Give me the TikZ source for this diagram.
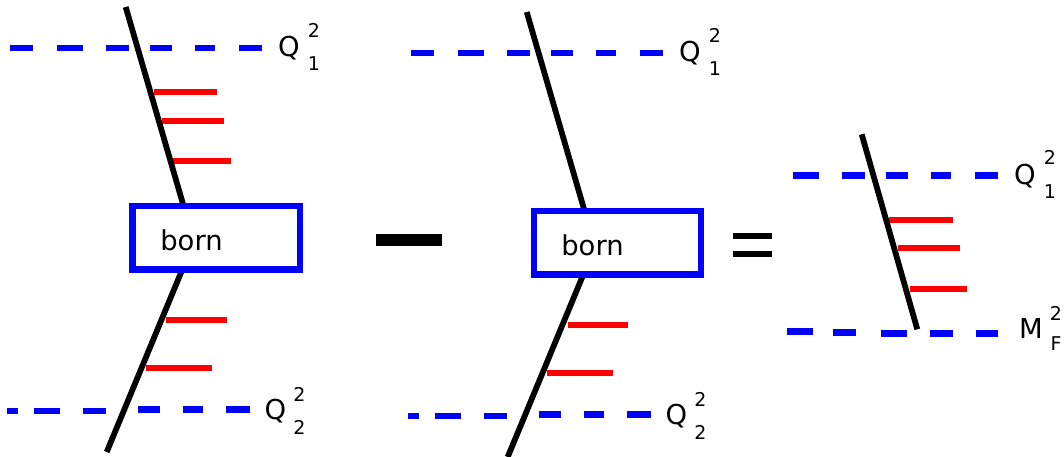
\documentclass[tikz,border=0pt]{standalone}
\usepackage{fontspec}
\setmainfont{DejaVu Sans}
\tikzset{
    quarkline/.style={line width=4.1pt, black},
    rungline/.style={line width=4.2pt, red},
    scaleline/.style={line width=4.7pt, blue},
    scaledash/.style={scaleline, dash pattern=on 16.6pt off 16.9pt on 18.3pt off 16.4pt on 16.6pt off 14.9pt on 15.6pt off 16.4pt on 14.2pt off 16.6pt on 16.6pt off 40pt},
    bornbox/.style={draw=blue, line width=4.6pt, minimum width=4.175cm, minimum height=1.58cm},
    borntext/.style={inner sep=0pt, font=\fontsize{19.5}{22}\selectfont},
    scaletext/.style={inner sep=0pt, font=\fontsize{19.5}{22}\selectfont},
    indextext/.style={inner sep=0pt, font=\fontsize{13.5}{15}\selectfont}
}
\begin{document}
\begin{tikzpicture}[x=0.025cm, y=-0.025cm]
    \useasboundingbox (0,0) rectangle (1064,456);

    % First term
    \draw[scaledash] (10,48) -- (262,48);
    \draw[scaleline, dash pattern=on 7.8pt off 11.4pt on 18.5pt off 16.4pt on 16.4pt off 40pt] (7,411) -- (106,411);
    \draw[scaledash, dash phase=99.6pt] (138,409.7) -- (250,409.7);
    \draw[rungline] (153.5,92.3) -- (216.7,92.3);
    \draw[rungline] (161.7,121) -- (224,121);
    \draw[rungline] (173,161.3) -- (231.3,161.3);
    \draw[rungline] (165.7,319.7) -- (226.7,319.7);
    \draw[rungline] (146,368) -- (212,368);
    \coordinate (quarkAtop) at (125.7,7);
    \coordinate (quarkAmid) at (183,204);
    \coordinate (quarkAlow) at (181.7,271);
    \coordinate (quarkAend) at (106.7,452);
    \draw[quarkline] (quarkAtop) -- (quarkAmid);
    \draw[quarkline] (quarkAlow) -- (quarkAend);
    \node[bornbox] (boxA) at (216.25,237.85) {};
    \node[borntext] (bornA) at (191.5,240) {born};
    \node[scaletext] (scaleAq) at (288.8,48.5) {Q};
    \node[indextext] (scaleAu) at (314,30) {2};
    \node[indextext] (scaleAd) at (314,64) {1};
    \node[scaletext] (scaleBq) at (275.5,411.5) {Q};
    \node[indextext] (scaleBu) at (299.5,394) {2};
    \node[indextext] (scaleBd) at (299.5,427) {2};

    % Minus sign
    \draw[line width=8.5pt] (376,240) -- (442,240);

    % Second term
    \draw[scaledash] (411,53) -- (663,53);
    \draw[scaleline, dash pattern=on 7.8pt off 11.4pt on 18.5pt off 16.4pt on 16.4pt off 40pt] (408,416) -- (507,416);
    \draw[scaledash, dash phase=99.6pt] (539,414.7) -- (651,414.7);
    \draw[rungline] (568,324.7) -- (627.7,324.7);
    \draw[rungline] (547,373) -- (613,373);
    \coordinate (quarkBtop) at (526.7,12);
    \coordinate (quarkBmid) at (584,209);
    \coordinate (quarkBlow) at (582.7,276);
    \coordinate (quarkBend) at (507.7,457);
    \draw[quarkline] (quarkBtop) -- (quarkBmid);
    \draw[quarkline] (quarkBlow) -- (quarkBend);
    \node[bornbox] (boxB) at (617.25,242.85) {};
    \node[borntext] (bornB) at (592.5,245) {born};
    \node[scaletext] (scaleCq) at (689.8,53.5) {Q};
    \node[indextext] (scaleCu) at (715,35) {2};
    \node[indextext] (scaleCd) at (715,69) {1};
    \node[scaletext] (scaleDq) at (676.5,416.5) {Q};
    \node[indextext] (scaleDu) at (700.5,399) {2};
    \node[indextext] (scaleDd) at (700.5,432) {2};

    % Equals sign
    \draw[line width=4.3pt] (732.7,235.7) -- (772,235.7);
    \draw[line width=4.3pt] (732.7,254) -- (772,254);

    % Result
    \draw[scaledash, dash phase=33.4pt] (793,175.5) -- (998,175.5);
    \draw[scaleline] (787,331.7) -- (813,331.7);
    \draw[scaleline] (833,332.3) -- (856,332.3);
    \draw[scaleline, dash pattern=on 18.5pt off 16.4pt on 16.4pt off 16.4pt on 15.6pt off 40pt] (881,333.3) -- (998,333.3);
    \draw[rungline] (889.3,219.7) -- (953,219.7);
    \draw[rungline] (897.7,248.3) -- (960,248.3);
    \draw[rungline] (910,288.7) -- (967.3,288.7);
    \coordinate (quarkCtop) at (861.7,134.3);
    \coordinate (quarkCend) at (917.3,329.3);
    \draw[quarkline] (quarkCtop) -- (quarkCend);
    \node[scaletext] (scaleEq) at (1025,176.5) {Q};
    \node[indextext] (scaleEu) at (1050,157.5) {2};
    \node[indextext] (scaleEd) at (1050,192) {1};
    \node[scaletext] (scaleFq) at (1031,328) {M};
    \node[indextext] (scaleFu) at (1056,313) {2};
    \node[indextext] (scaleFd) at (1056,343.5) {F};
\end{tikzpicture}
\end{document}
